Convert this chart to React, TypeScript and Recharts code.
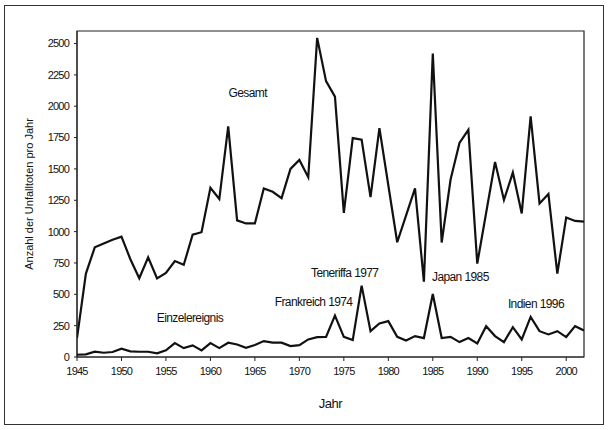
import React from "react";
import { LineChart, Line, XAxis, YAxis, ReferenceArea, ReferenceDot } from "recharts";

const years = [
  1945, 1946, 1947, 1948, 1949, 1950, 1951, 1952, 1953, 1954, 1955, 1956, 1957, 1958, 1959,
  1960, 1961, 1962, 1963, 1964, 1965, 1966, 1967, 1968, 1969, 1970, 1971, 1972, 1973, 1974,
  1975, 1976, 1977, 1978, 1979, 1980, 1981, 1982, 1983, 1984, 1985, 1986, 1987, 1988, 1989,
  1990, 1991, 1992, 1993, 1994, 1995, 1996, 1997, 1998, 1999, 2000, 2001, 2002,
];

const gesamt = [
  150, 665, 875, 905, 935, 960, 780, 628, 795, 627, 670, 765, 735, 975, 995,
  1350, 1260, 1840, 1090, 1065, 1065, 1345, 1318, 1267, 1500, 1572, 1434, 2545, 2200, 2077,
  1150, 1746, 1733, 1275, 1826, 1370, 915, 1130, 1345, 600, 2420, 913, 1415, 1707, 1812,
  745, 1150, 1555, 1252, 1471, 1145, 1920, 1225, 1300, 665, 1113, 1085, 1080,
];

const einzel = [
  18, 21, 42, 34, 40, 66, 45, 42, 42, 29, 53, 111, 71, 93, 53,
  111, 71, 114, 100, 74, 95, 127, 114, 114, 87, 95, 140, 159, 161, 331,
  161, 135, 569, 206, 267, 286, 161, 132, 167, 151, 503, 151, 161, 119, 151,
  108, 246, 167, 119, 238, 140, 320, 206, 180, 206, 159, 246, 212,
];

const xTicks = [1945, 1950, 1955, 1960, 1965, 1970, 1975, 1980, 1985, 1990, 1995, 2000];
const yTicks = [0, 250, 500, 750, 1000, 1250, 1500, 1750, 2000, 2250, 2500];

const annotations = [
  { text: "Gesamt", x: 1964.2, y: 2110 },
  { text: "Einzelereignis", x: 1957.7, y: 310 },
  { text: "Teneriffa 1977", x: 1975.1, y: 675 },
  { text: "Frankreich 1974", x: 1971.6, y: 437 },
  { text: "Japan 1985", x: 1988.1, y: 643 },
  { text: "Indien 1996", x: 1996.6, y: 421 },
];

const data = years.map((y, i) => ({ year: y, gesamt: gesamt[i], einzel: einzel[i] }));

const FONT = "'Liberation Sans', Arial, sans-serif";

export default function App() {
  return (
    <div style={{ position: "absolute", left: 0, top: 0, width: 608, height: 430, background: "#fff" }}>
      <div
        style={{
          position: "absolute",
          left: 4,
          top: 5,
          width: 598,
          height: 418,
          border: "1px solid #333",
        }}
      />
      <div style={{ position: "absolute", left: 0, top: 0 }}>
        <LineChart
          width={608}
          height={430}
          data={data}
          margin={{ top: 31, right: 24, bottom: 0, left: 0 }}
        >
          <XAxis
            dataKey="year"
            type="number"
            domain={[1945, 2002]}
            ticks={xTicks}
            interval={0}
            allowDataOverflow
            tick={{ fontSize: 11, fill: "#111", fontFamily: FONT, letterSpacing: -0.8 }}
            tickSize={4}
            tickMargin={6}
            tickLine={{ stroke: "#222" }}
            axisLine={{ stroke: "#222" }}
            height={73}
            label={{ value: "Jahr", position: "insideTop", offset: 42, fontSize: 13, fill: "#111", fontFamily: FONT, letterSpacing: -0.5 }}
          />
          <YAxis
            type="number"
            domain={[0, 2600]}
            ticks={yTicks}
            interval={0}
            allowDataOverflow
            width={77}
            tick={{ fontSize: 11, fill: "#111", fontFamily: FONT, letterSpacing: -0.8 }}
            tickSize={3}
            tickMargin={5}
            tickLine={{ stroke: "#222" }}
            axisLine={{ stroke: "#222" }}
            label={{
              value: "Anzahl der Unfalltoten pro Jahr",
              angle: -90,
              position: "insideLeft",
              offset: 29,
              fontSize: 11,
              fill: "#111",
              fontFamily: FONT,
              style: { textAnchor: "middle" },
            }}
          />
          <ReferenceArea x1={1945} x2={2002} y1={0} y2={2600} fill="none" stroke="#222" strokeWidth={1.2} ifOverflow="visible" />
          <Line dataKey="gesamt" stroke="#111" strokeWidth={2.2} dot={false} isAnimationActive={false} />
          <Line dataKey="einzel" stroke="#111" strokeWidth={2.2} dot={false} isAnimationActive={false} />
          {annotations.map((a) => (
            <ReferenceDot
              key={a.text}
              x={a.x}
              y={a.y}
              r={0}
              fill="none"
              stroke="none"
              ifOverflow="visible"
              label={{ value: a.text, position: "center", fontSize: 12, fill: "#111", fontFamily: FONT, letterSpacing: -0.6 }}
            />
          ))}
        </LineChart>
      </div>
    </div>
  );
}
